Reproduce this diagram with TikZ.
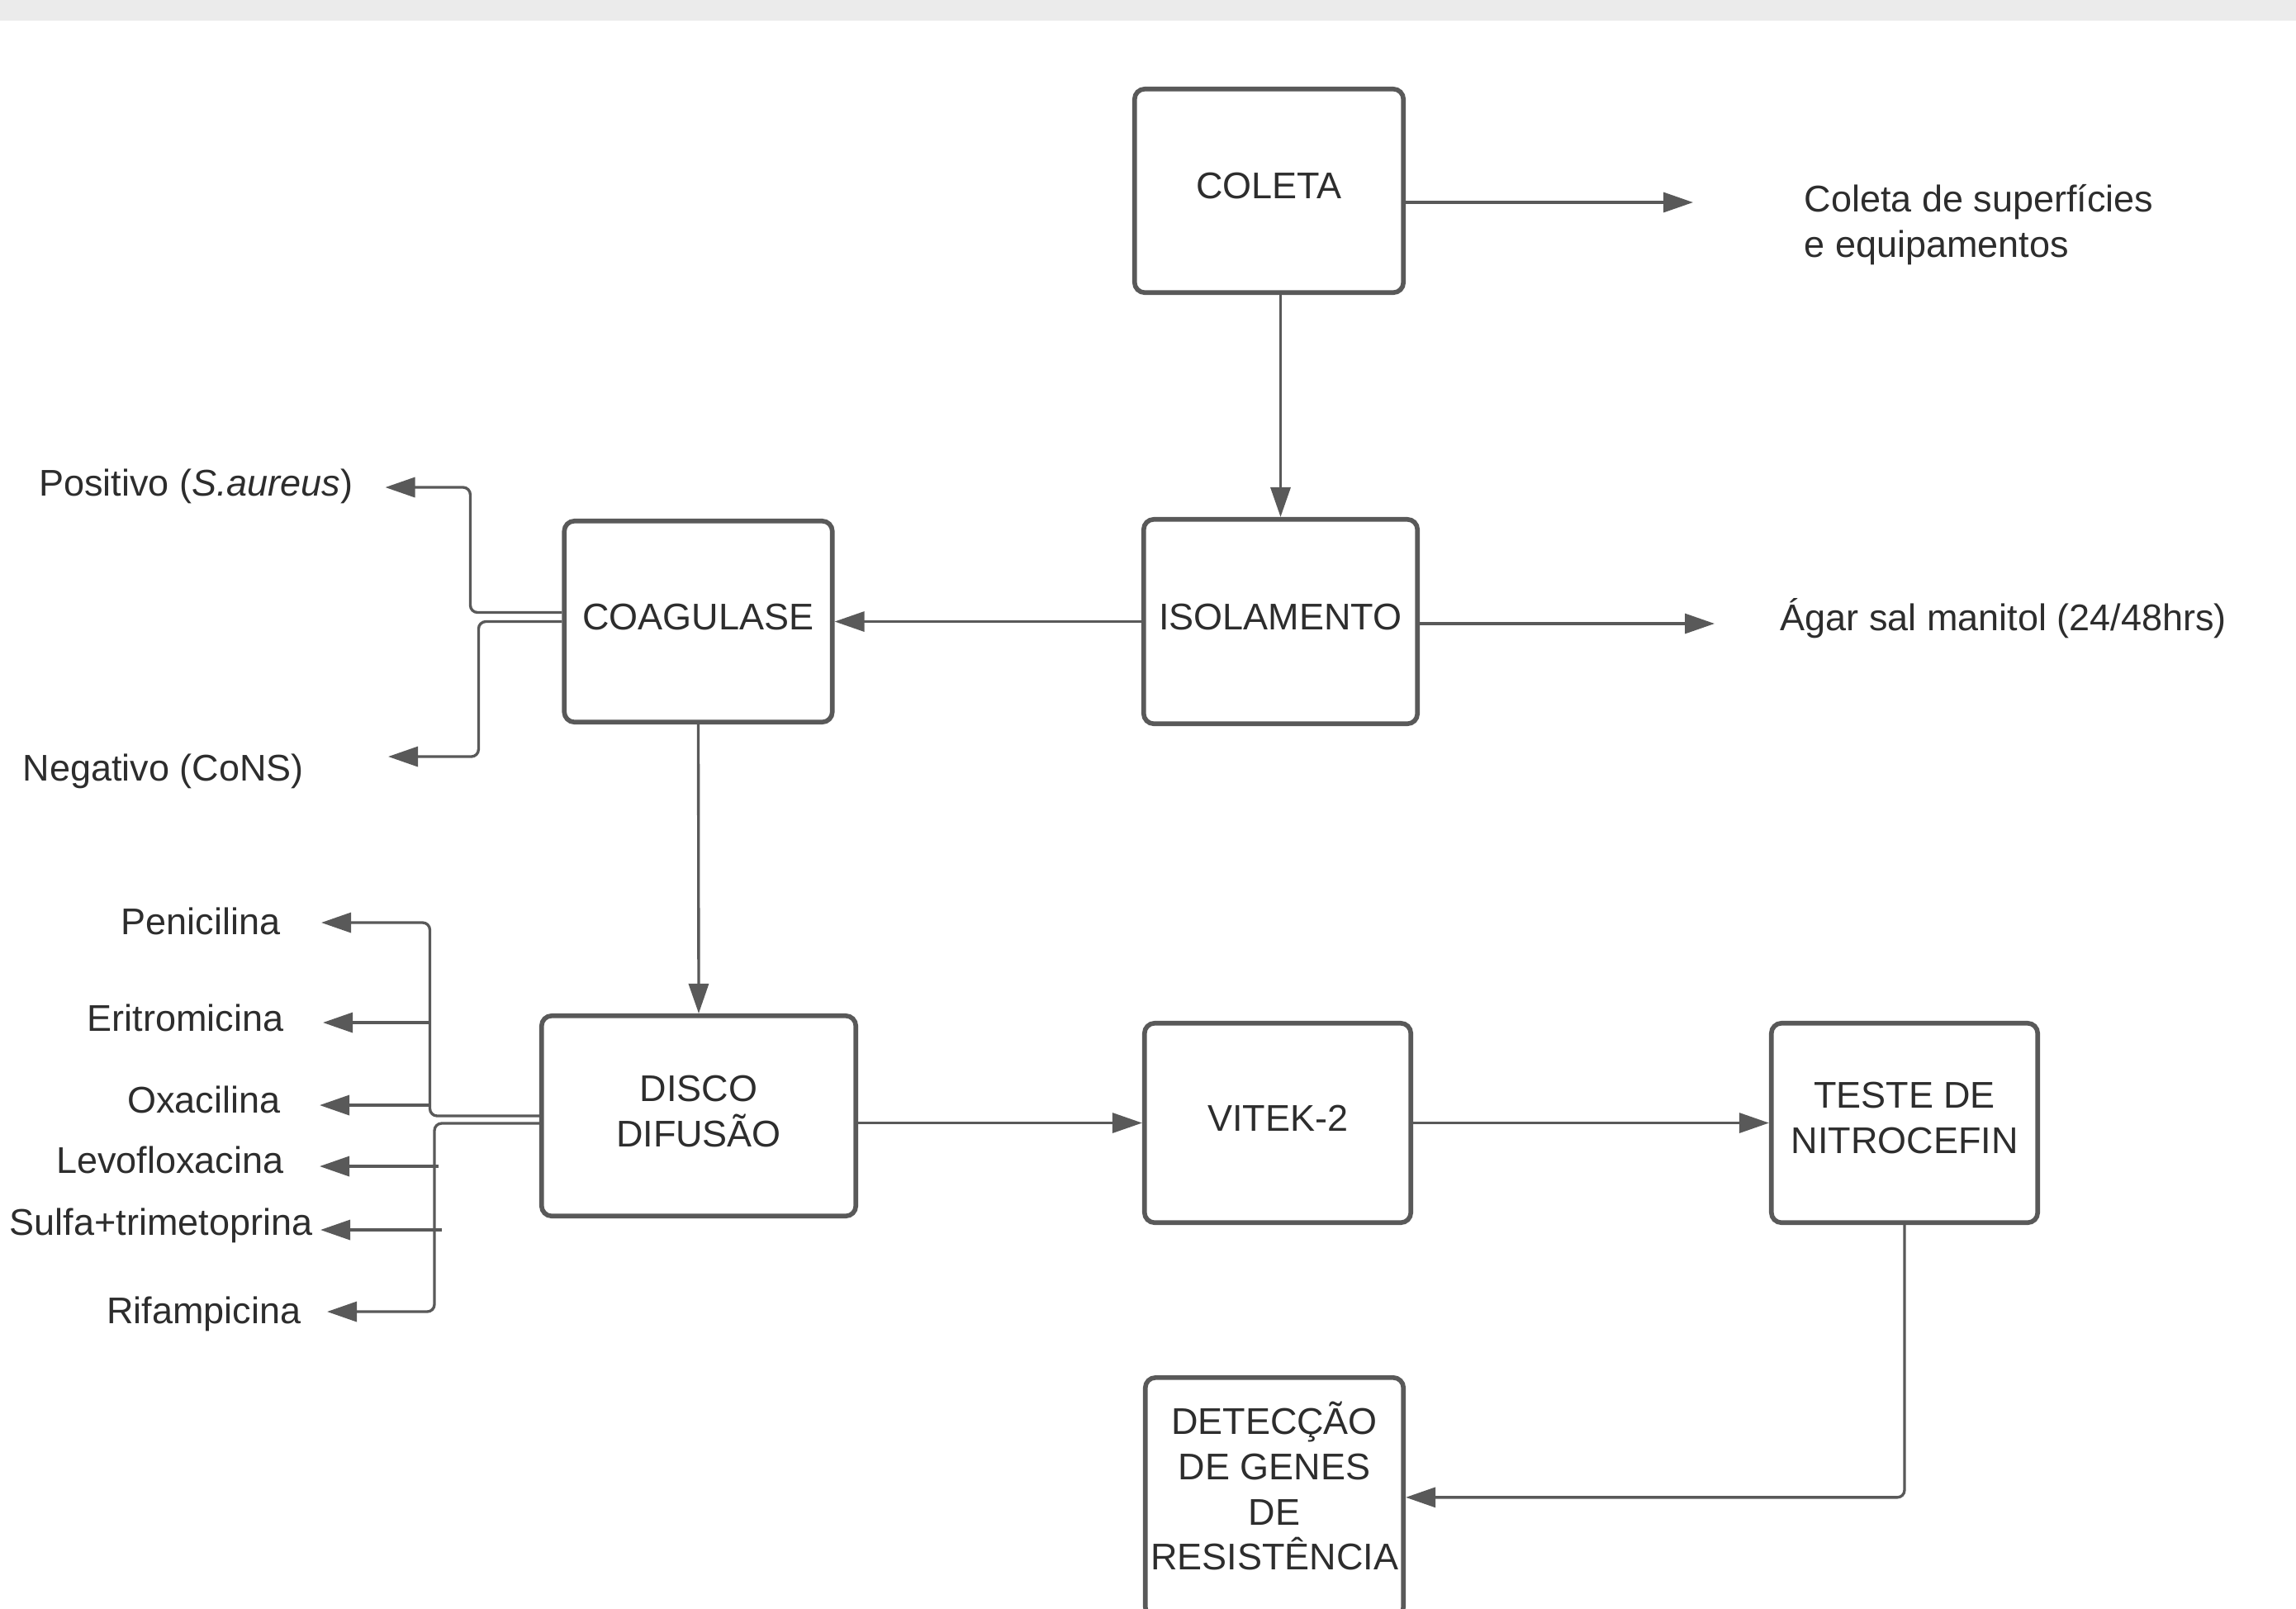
\documentclass[tikz,border=0pt]{standalone}
\usepackage{fontspec}
\setmainfont{Liberation Sans}
\usetikzlibrary{arrows.meta}
\definecolor{linegray}{RGB}{89,89,89}
\definecolor{textgray}{RGB}{45,45,45}
\definecolor{bandgray}{RGB}{235,235,235}

\begin{document}
\begin{tikzpicture}[
  etapa/.style={draw=linegray, line width=1.6pt, rounded corners=3.5pt, align=center,
                font=\fontsize{12.8}{15.6}\selectfont, text=textgray, inner sep=1pt,
                text depth=0.12cm},
  rotulo/.style={font=\fontsize{12.8}{15.6}\selectfont, text=textgray, inner sep=0pt},
  arr/.style={-{Triangle[length=0.36cm, width=0.24cm]}, line width=0.95pt, linegray},
  ramo/.style={arr, rounded corners=2.5pt}
]
  \useasboundingbox (0,0) rectangle (27.8,-19.47);
  \clip (0,0) rectangle (27.8,-19.47);
  \fill[bandgray] (0,0) rectangle (27.8,-0.25);

  % etapas
  \node[etapa, minimum width=3.255cm, minimum height=2.465cm] (coleta) at (15.365,-2.31) {COLETA};
  \node[etapa, minimum width=3.315cm, minimum height=2.475cm] (isol) at (15.505,-7.525) {ISOLAMENTO};
  \node[etapa, minimum width=3.245cm, minimum height=2.435cm] (coag) at (8.455,-7.525) {COAGULASE};
  \node[etapa, minimum width=3.805cm, minimum height=2.425cm] (disco) at (8.46,-13.51) {DISCO\\DIFUSÃO};
  \node[etapa, minimum width=3.225cm, minimum height=2.415cm] (vitek) at (15.47,-13.595) {VITEK-2};
  \node[etapa, minimum width=3.225cm, minimum height=2.415cm] (teste) at (23.06,-13.595) {TESTE DE\\NITROCEFIN};
  \node[etapa, minimum width=3.125cm, minimum height=2.9cm, anchor=north, text depth=0.28cm] (detec) at (15.43,-16.65)
    {DETECÇÃO\\DE GENES\\DE\\RESISTÊNCIA};

  % rotulos
  \node[rotulo, align=left, anchor=west] (superf) at (21.84,-2.72) {Coleta de superfícies\\e equipamentos};
  \node[rotulo, anchor=base west] (agar) at (21.55,-7.63) {Ágar sal manitol (24/48hrs)};
  \node[rotulo, anchor=base east] (pos) at (4.28,-6.00) {Positivo (\textit{S.aureus})};
  \node[rotulo, anchor=base west] (neg) at (0.27,-9.45) {Negativo (CoNS)};
  \node[rotulo, anchor=base east] (pen) at (3.40,-11.31) {Penicilina};
  \node[rotulo, anchor=base east] (eri) at (3.44,-12.48) {Eritromicina};
  \node[rotulo, anchor=base east] (oxa) at (3.40,-13.47) {Oxacilina};
  \node[rotulo, anchor=base east] (levo) at (3.44,-14.20) {Levofloxacina};
  \node[rotulo, anchor=base east] (sulfa) at (3.79,-14.95) {Sulfa+trimetoprina};
  \node[rotulo, anchor=base east] (rifa) at (3.65,-16.02) {Rifampicina};

  % pontas livres
  \coordinate (tsuperf) at (20.50,-2.45);
  \coordinate (tagar) at (20.76,-7.55);
  \coordinate (tpos) at (4.665,-5.90);
  \coordinate (tneg) at (4.70,-9.16);
  \coordinate (tpen) at (3.89,-11.17);
  \coordinate (teri) at (3.91,-12.38);
  \coordinate (toxa) at (3.87,-13.38);
  \coordinate (tlevo) at (3.87,-14.12);
  \coordinate (tsulfa) at (3.88,-14.89);
  \coordinate (trifa) at (3.96,-15.88);
  \coordinate (rsup) at (5.205,-13.51);
  \coordinate (rinf) at (5.26,-13.60);

  % fluxo principal
  \draw[arr] (coleta.east |- tsuperf) -- (tsuperf);
  \draw[arr] (coleta.south -| isol.north) -- (isol.north);
  \draw[arr] (isol.east |- tagar) -- (tagar);
  \draw[arr] (isol.west) -- (coag.east);
  \draw[arr] (coag.south) -- (disco.north);
  \draw[arr] (disco.east |- vitek.west) -- (vitek.west);
  \draw[arr] (vitek.east) -- (teste.west);
  \draw[ramo] (teste.south) |- (detec.east);

  % coagulase
  \draw[ramo] ([yshift=0.11cm]coag.west) -- ++(-1.11,0) |- (tpos);
  \draw[ramo] (coag.west) -- ++(-1.01,0) |- (tneg);

  % antibiograma
  \draw[ramo] (disco.west) -- (rsup) |- (tpen);
  \draw[arr] (rsup |- teri) -- (teri);
  \draw[arr] (rsup |- toxa) -- (toxa);
  \draw[ramo] (disco.west |- rinf) -- (rinf) |- (trifa);
  \draw[arr] ([xshift=0.05cm]rinf |- tlevo) -- (tlevo);
  \draw[arr] ([xshift=0.085cm]rinf |- tsulfa) -- (tsulfa);
\end{tikzpicture}
\end{document}
